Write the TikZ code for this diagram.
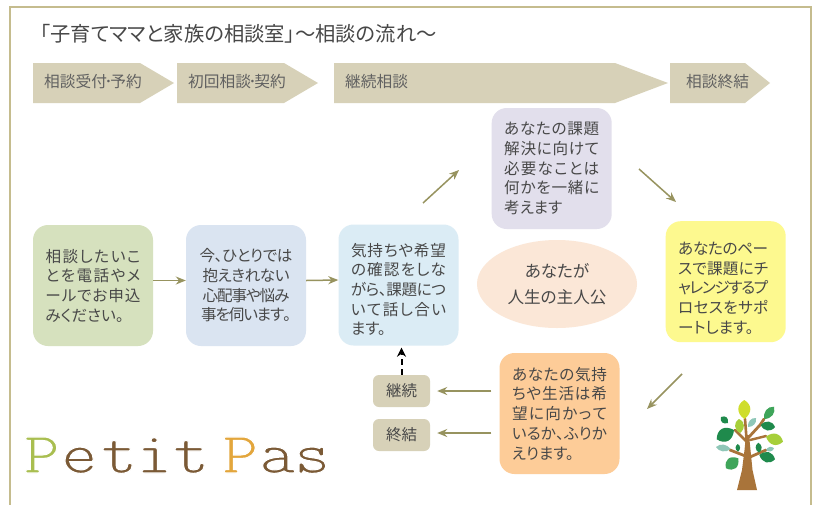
\documentclass[tikz,border=0pt]{standalone}
\usepackage{fontspec}
\setmainfont[RawFeature=+palt]{Noto Sans CJK JP}
\newfontfamily\logofont[FakeStretch=1.2]{Latin Modern Mono}
\usetikzlibrary{arrows.meta,calc,shapes.geometric}
\definecolor{frameC}{HTML}{C5BC8E}
\definecolor{khaki}{HTML}{D7D1B8}
\definecolor{arrowC}{HTML}{97935F}
\definecolor{txt}{HTML}{484848}
\definecolor{gBox}{HTML}{D6E1BE}
\definecolor{bBox}{HTML}{DAE4F1}
\definecolor{cBox}{HTML}{DBECF5}
\definecolor{vBox}{HTML}{E2DFEC}
\definecolor{yBox}{HTML}{FDF98F}
\definecolor{oBox}{HTML}{FDCC98}
\definecolor{eBox}{HTML}{FBE7D7}
\definecolor{pGreen}{HTML}{A9BE50}
\definecolor{pBrown}{HTML}{7B5A36}
\definecolor{pOrange}{HTML}{E3A63C}
\definecolor{trunk}{HTML}{A9743A}
\definecolor{lfD}{HTML}{1F8A4C}
\definecolor{lfM}{HTML}{3FA55A}
\definecolor{lfL}{HTML}{A6CF3A}
\definecolor{lfY}{HTML}{CFDD2C}
\definecolor{lfB}{HTML}{8FC7B8}
\tikzset{
  x=1pt,y=-1pt,
  flowbox/.style={rounded corners=15pt,minimum width=120pt,minimum height=121pt,inner sep=0pt,text=txt,align=left,font=\fontsize{15.6pt}{19.7pt}\selectfont},
  smallbox/.style={fill=khaki,rounded corners=6pt,minimum width=57pt,minimum height=32pt,inner sep=0pt,text=txt,font=\fontsize{15.5pt}{18pt}\selectfont},
  steplabel/.style={anchor=west,text=black!62,inner sep=0pt,font=\fontsize{15.7pt}{16pt}\selectfont},
  band/.style={fill=khaki,draw=none},
  link/.style={draw=arrowC,line width=1.5pt,-{Stealth[length=10pt,width=8pt]}},
}
\def\spreadend{\spreadend}
\def\spreadch#1#2{#1\ifx#2\spreadend\else\hspace{0pt plus 1fil minus 3pt}\expandafter\spreadch\expandafter#2\fi}
\newcommand{\jl}[2][95pt]{\makebox[95pt][l]{\makebox[#1][s]{\spreadch#2\spreadend}}}
\newcommand{\jc}[2]{\makebox[95pt][c]{\makebox[#1][s]{\spreadch#2\spreadend}}}
\newcommand{\lastl}[1]{\makebox[95pt][l]{#1}}
\newcommand{\logoch}[3]{\makebox[#1][c]{\textcolor{#2}{\special{pdf:code 2 Tr 1 1 1 RG 1.1 w}#3\special{pdf:code 0 Tr 1 w}}}}
\newcommand{\leafAt}[4]{% start, tip, half width, colour
  \fill[#4] (#1) .. controls ($(#1)!.3!(#2)!#3!90:(#2)$) and ($(#1)!.75!(#2)!#3!90:(#2)$) .. (#2) .. controls ($(#1)!.75!(#2)!#3!-90:(#2)$) and ($(#1)!.3!(#2)!#3!-90:(#2)$) .. (#1) -- cycle;}
\begin{document}
\begin{tikzpicture}
\useasboundingbox (0,0) rectangle (818,504);
\fill[white] (0,0) rectangle (818,504);
\draw[frameC,line width=2pt] (9.5,510) -- (9.5,6.5) -- (811,6.5) -- (811,510);
\node[anchor=west,inner sep=0pt,text=black!72,font=\fontsize{20.3pt}{22pt}\selectfont] (title) at (40,34) {「子育てママと家族の相談室」～相談の流れ～};
% step band
\fill[band] (33,63) -- (140,63) -- (174,83) -- (140,103) -- (33,103) -- cycle;
\fill[band] (177,63) -- (284,63) -- (318,83) -- (284,103) -- (177,103) -- cycle;
\fill[band] (334,63) -- (615,63) -- (668,83) -- (615,103) -- (334,103) -- cycle;
\fill[band] (670,63) -- (745,63) -- (770,83) -- (745,103) -- (670,103) -- cycle;
\node[steplabel] (s1) at (44,82) {相談受付\kern-2.5pt･\kern-2pt予約};
\node[steplabel] (s2) at (188,82) {初回相談\kern-2.5pt･\kern-2pt契約};
\node[steplabel] (s3) at (345,82) {継続相談};
\node[steplabel] (s4) at (686,82) {相談終結};
% flow boxes
\node[flowbox,fill=gBox] (a) at (93,285.5) {\jl{相談したいこ}\\\jl{とを電話やメ}\\\jl{ールでお申込}\\\lastl{みください。}};
\node[flowbox,fill=bBox] (b) at (246,285.5) {\jc{93pt}{今、ひとりでは}\\\jc{87pt}{抱えきれない}\\\jc{87pt}{心配事や悩み}\\\jc{90pt}{事を伺います。}};
\node[flowbox,fill=cBox] (c) at (398.5,285) {\rule{0pt}{22pt}\jl{気持ちや希望}\\\jl{の確認をしな}\\\jl{がら、課題につ}\\\jl{いて話し合い}\\\lastl{ます。}};
\node[flowbox,fill=vBox] (d) at (551.7,168.5) {\jl{あなたの課題}\\\jl{解決に向けて}\\\jl{必要なことは}\\\jl{何かを一緒に}\\\lastl{考えます}};
\node[flowbox,fill=yBox] (e) at (725.7,281.7) {\rule{0pt}{25pt}\jl[90pt]{あなたのペー}\\\jl[90pt]{スで課題にチ}\\\jl[90pt]{ャレンジするプ}\\\jl[90pt]{ロセスをサポ}\\\lastl{ートします。}};
\node[flowbox,fill=oBox] (f) at (559.5,413.5) {\jl{あなたの気持}\\\jl{ちや生活は希}\\\jl{望に向かって}\\\jl{いるか、ふりか}\\\lastl{えります。}};
\node[ellipse,fill=eBox,minimum width=160pt,minimum height=88pt,inner sep=0pt,text=txt,align=center,font=\fontsize{16.6pt}{26pt}\selectfont] (g) at (557,284) {あなたが\\人生の主人公};
\node[smallbox] (k1) at (401.5,391) {継続};
\node[smallbox] (k2) at (401.5,435) {終結};
% connectors
\draw[link] ([yshift=5pt]a.east) -- ([yshift=5pt]b.west);
\draw[link] ([yshift=5pt]b.east) -- ([yshift=5pt]c.west);
\coordinate (p1) at (423,203); \coordinate (p2) at (459,170);
\coordinate (p3) at (639,169); \coordinate (p4) at (676,202);
\coordinate (p5) at (682,374); \coordinate (p6) at (647,409);
\draw[link] (p1) -- (p2);
\draw[link] (p3) -- (p4);
\draw[link] (p5) -- (p6);
\draw[link,shorten >=7pt,shorten <=8pt] (f.west |- k1) -- (k1.east);
\draw[link,shorten >=7pt,shorten <=8pt] ([yshift=2pt]f.west |- k2) -- ([yshift=2pt]k2.east);
\draw[black,line width=2pt,dashed,dash pattern=on 6pt off 4pt,-{Stealth[length=9pt,width=9pt]},shorten >=2pt] (k1.north) -- (k1.north |- c.south);
% logo
\node[anchor=base west,inner sep=0pt,font=\logofont\fontsize{59pt}{60pt}\selectfont] (logo) at (23,473) {\logoch{37pt}{pGreen}{P}\logoch{38pt}{pBrown}{e}\logoch{42pt}{pBrown}{t}\logoch{28pt}{pBrown}{i}\logoch{46pt}{pBrown}{t}\logoch{52pt}{pOrange}{P}\logoch{22pt}{pBrown}{a}\logoch{48pt}{pBrown}{s}};
% tree
\draw[trunk,line width=2.8pt,line cap=round] (748,457) -- (730,450);
\draw[trunk,line width=2.8pt,line cap=round] (750,457) -- (766,450);
\draw[trunk,line width=2.8pt,line cap=round] (747,442) -- (735,430);
\draw[trunk,line width=2.8pt,line cap=round] (748,438) -- (760,425) -- (764,419);
\draw[trunk,line width=2.4pt,line cap=round] (750,440) -- (766,436);
\draw[trunk,line width=2.6pt,line cap=round] (747,445) -- (745,419);
\fill[trunk] (737,490) -- (757,490) -- (752.5,470) -- (750.5,450) -- (749,435) -- (746,435) -- (744.5,450) -- (742,470) -- cycle;
\leafAt{744.3,419}{744.3,400}{8pt}{lfY}
\leafAt{764.3,419}{774,406.7}{5.5pt}{lfM}
\leafAt{740,433}{739,419}{6pt}{lfL}
\leafAt{748,427}{756,418}{4pt}{lfB}
\leafAt{728,423}{721,417}{4.5pt}{lfD}
\leafAt{760.7,425}{775,427}{6pt}{lfD}
\leafAt{734,430}{716.7,439.3}{9pt}{lfD}
\leafAt{766,436.7}{783,441.7}{7.5pt}{lfL}
\leafAt{730.7,449}{716,447}{4.5pt}{lfB}
\leafAt{738,451.7}{737.7,444}{3pt}{lfD}
\leafAt{759,452.7}{758.3,442.7}{4pt}{lfD}
\leafAt{766,450}{774,448.3}{3pt}{lfB}
\leafAt{759.3,455}{775,459.3}{7pt}{lfD}
\leafAt{738.3,458.3}{726,468.3}{8pt}{lfM}
\end{tikzpicture}
\end{document}
